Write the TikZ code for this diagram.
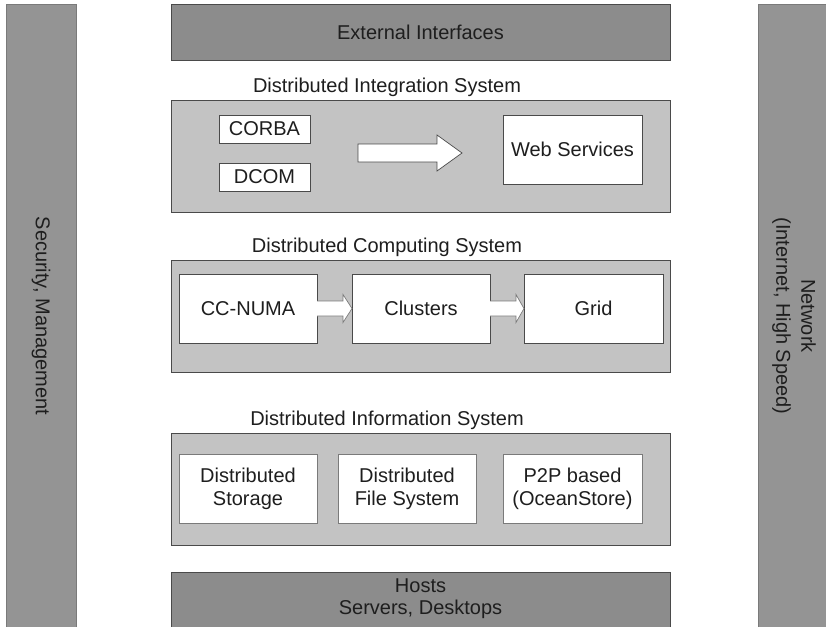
\documentclass[tikz,border=0pt]{standalone}
\usepackage{fontspec}
\setmainfont{Liberation Sans}
\usetikzlibrary{calc}
\definecolor{bardark}{HTML}{8C8C8C}
\definecolor{barside}{HTML}{949494}
\definecolor{panel}{HTML}{C3C3C3}
\definecolor{edge}{HTML}{4A4A4A}
\definecolor{softedge}{HTML}{7A7A7A}
\definecolor{txt}{HTML}{1E1E1E}
\begin{document}
\begin{tikzpicture}[x=1pt,y=-1pt,
  every node/.style={inner sep=0pt, outer sep=0pt, text=txt, font=\fontsize{20}{23}\selectfont},
  layer/.style={rectangle, draw=edge, fill=bardark, line width=0.8pt},
  sidebar/.style={rectangle, draw=softedge, fill=barside, line width=0.8pt},
  panelbox/.style={rectangle, draw=edge, fill=panel, line width=0.8pt},
  itembox/.style={rectangle, draw=edge, fill=white, line width=0.8pt, align=center},
  softbox/.style={rectangle, draw=softedge, fill=white, line width=0.8pt, align=center},
  blockarrow/.style={draw=edge, fill=white, line width=0.7pt, line join=miter},
  smallarrow/.style={draw=softedge, fill=white, line width=0.7pt, line join=miter}]
\useasboundingbox (0,0) rectangle (826,626);
\clip (0,0) rectangle (826,626);
\fill[white] (0,0) rectangle (826,626);

% side bars
\node[sidebar, minimum width=70pt, minimum height=636pt] (sec) at (41,322) {};
\node[rotate=-90] (seclabel) at (41,316) {Security, Management};
\node[sidebar, minimum width=72pt, minimum height=636pt] (net) at (794,322) {};
\node[rotate=-90, align=center, font=\fontsize{20}{25}\selectfont] (netlabel) at (794,316) {Network\\(Internet, High Speed)};

% external interfaces
\node[layer, minimum width=499pt, minimum height=56pt] (ext) at (420.5,32) {External Interfaces};

% integration
\node (intlabel) at (387,87) {Distributed Integration System};
\node[panelbox, minimum width=499pt, minimum height=112pt] (intg) at (420.5,156) {};
\node[itembox, minimum width=91pt, minimum height=28pt] (corba) at (264.5,129) {CORBA};
\node[itembox, minimum width=91pt, minimum height=28pt] (dcom) at (264.5,177) {DCOM};
\node[itembox, minimum width=139pt, minimum height=69pt] (web) at (572.5,149.5) {Web Services};
\coordinate (arrtail) at (358,153);
\coordinate (arrtip) at (462,153);
\draw[blockarrow] ($(arrtail)+(0,-9)$) -- ($(arrtip)+(-25,-9)$) -- ($(arrtip)+(-25,-18)$) -- (arrtip)
  -- ($(arrtip)+(-25,18)$) -- ($(arrtip)+(-25,9)$) -- ($(arrtail)+(0,9)$) -- cycle;

% computing
\node (complabel) at (387,247) {Distributed Computing System};
\node[panelbox, minimum width=499pt, minimum height=112pt] (comp) at (420.5,316) {};
\node[itembox, minimum width=138pt, minimum height=69pt] (cc) at (248,308.5) {CC-NUMA};
\node[itembox, minimum width=138pt, minimum height=69pt] (cl) at (421,308.5) {Clusters};
\node[itembox, minimum width=139pt, minimum height=69pt] (grid) at (593.5,308.5) {Grid};
\draw[smallarrow] ($(cc.east)+(0,-7.5)$) -- ($(cl.west)+(-9,-7.5)$) -- ($(cl.west)+(-9,-14)$) -- (cl.west)
  -- ($(cl.west)+(-9,14)$) -- ($(cl.west)+(-9,7.5)$) -- ($(cc.east)+(0,7.5)$);
\draw[smallarrow] ($(cl.east)+(0,-7.5)$) -- ($(grid.west)+(-8,-7.5)$) -- ($(grid.west)+(-8,-14)$) -- (grid.west)
  -- ($(grid.west)+(-8,14)$) -- ($(grid.west)+(-8,7.5)$) -- ($(cl.east)+(0,7.5)$);

% information
\node (infolabel) at (387,420) {Distributed Information System};
\node[panelbox, minimum width=499pt, minimum height=112pt] (info) at (420.5,489) {};
\node[softbox, minimum width=138pt, minimum height=69pt] (ds) at (248,488.5) {Distributed\\Storage};
\node[softbox, minimum width=138pt, minimum height=69pt] (dfs) at (407,488.5) {Distributed\\File System};
\node[softbox, minimum width=139pt, minimum height=69pt] (p2p) at (572.5,488.5) {P2P based\\(OceanStore)};

% hosts
\node[layer, minimum width=499pt, minimum height=68pt] (hosts) at (420.5,606) {};
\node[align=center, font=\fontsize{20}{22}\selectfont] (hostlabel) at (420.5,599) {Hosts\\Servers, Desktops};
\end{tikzpicture}
\end{document}
